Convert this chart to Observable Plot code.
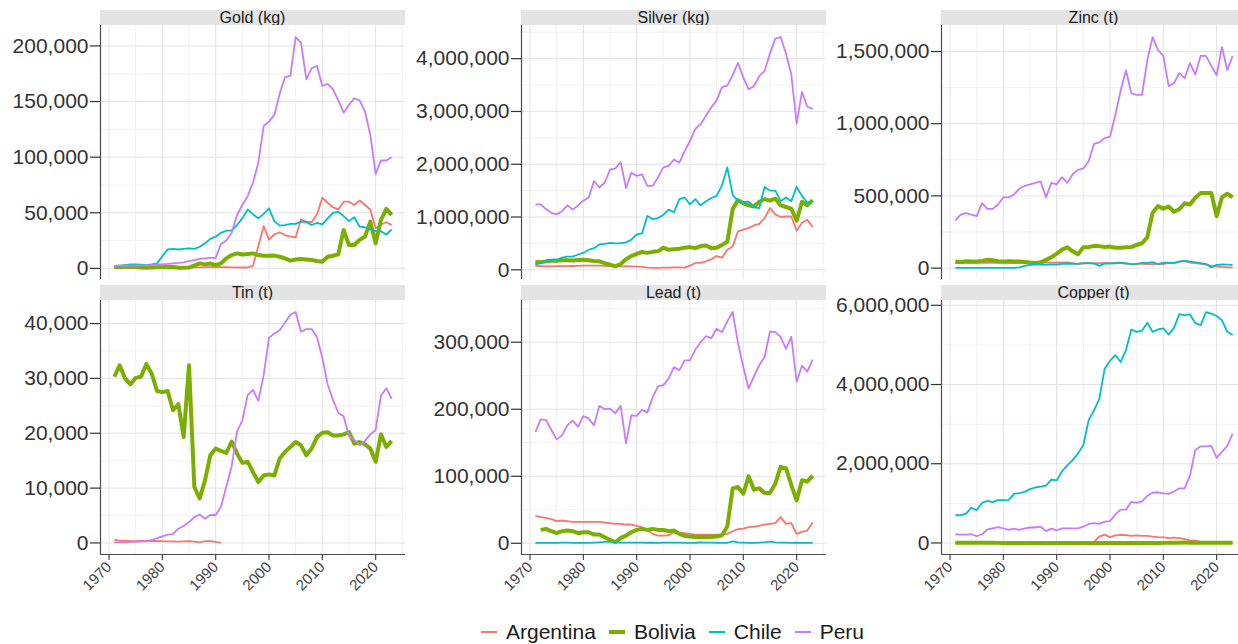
<!DOCTYPE html>
<html>
<head>
<meta charset="utf-8">
<script src="https://cdn.jsdelivr.net/npm/d3@7"></script>
<script src="https://cdn.jsdelivr.net/npm/@observablehq/plot@0.6"></script>
<style>
html,body{margin:0;padding:0;background:#fff;}
#chart{position:relative;width:1238px;height:644px;overflow:hidden;background:#fff;font-family:"Liberation Sans",Arial,Helvetica,sans-serif;}
.panel{position:absolute;}
.panel svg{max-width:none !important;}
.strip{position:absolute;background:#e4e4e4;color:#1a1a1a;font-size:16px;text-align:center;line-height:15px;height:15px;white-space:nowrap;overflow:hidden;}
#legend{position:absolute;top:620px;left:481px;display:flex;align-items:center;font-size:21px;color:#1a1a1a;line-height:24px;white-space:nowrap;}
#legend .key{display:inline-block;width:16px;margin-right:9px;}
#legend .item{display:flex;align-items:center;margin-right:13px;}
</style>
</head>
<body>
<div id="chart"></div>
<script>
// ---------- data (values in thousands of the unit shown in each title) ----------
const years = [1971,1972,1973,1974,1975,1976,1977,1978,1979,1980,
  1981,1982,1983,1984,1985,1986,1987,1988,1989,1990,
  1991,1992,1993,1994,1995,1996,1997,1998,1999,2000,
  2001,2002,2003,2004,2005,2006,2007,2008,2009,2010,
  2011,2012,2013,2014,2015,2016,2017,2018,2019,2020,
  2021,2022,2023];
const countries = ["Argentina", "Bolivia", "Chile", "Peru"];
const metalTitles = ["Gold (kg)", "Silver (kg)", "Zinc (t)", "Tin (t)", "Lead (t)", "Copper (t)"];
const xTicks = [1970, 1980, 1990, 2000, 2010, 2020];
const goldTicks = [0, 50000, 100000, 150000, 200000];
const silverTicks = [0, 1000000, 2000000, 3000000, 4000000];
const zincTicks = [0, 500000, 1000000, 1500000];
const tinTicks = [0, 10000, 20000, 30000, 40000];
const leadTicks = [0, 100000, 200000, 300000];
const copperTicks = [0, 2000000, 4000000, 6000000];

const goldArgentina = [0.8,0.7,0.6,0.5,0.4,0.5,0.5,0.5,0.6,0.5,
  0.6,0.7,0.8,0.9,1.0,0.9,1.0,1.1,1.2,1.3,
  1.2,1.1,0.9,1.0,0.8,0.8,2.5,20.0,38.0,26.0,
  30.5,32.5,30.0,28.5,28.0,44.0,42.0,41.5,48.5,63.5,
  59.0,55.0,53.0,60.0,60.0,57.0,61.0,57.0,53.0,36.0,
  39.5,41.5,39.0];
const goldBolivia = [1.0,1.2,1.4,1.5,1.3,0.9,0.5,0.8,1.0,1.2,
  1.5,1.2,0.6,0.5,0.9,2.5,4.5,3.6,4.4,3.0,
  4.5,9.0,12.0,13.5,12.5,13.0,13.5,12.0,11.4,11.4,
  11.5,10.5,9.0,7.0,8.0,8.5,8.0,7.5,6.6,6.0,
  10.5,11.4,12.6,34.6,21.0,21.0,25.6,28.6,42.0,22.5,
  43.6,53.5,48.0];
const goldChile = [2.0,2.5,3.0,3.5,3.5,3.3,3.0,3.5,4.5,11.0,
  17.0,17.5,17.0,17.5,18.0,17.5,19.5,22.5,26.5,28.5,
  32.0,34.0,34.0,39.0,45.0,53.0,48.5,45.0,49.0,54.0,
  42.5,38.5,39.0,40.0,40.0,42.0,41.5,39.0,41.0,39.5,
  45.0,50.0,51.0,47.0,42.5,46.0,37.5,37.0,35.0,33.5,
  33.5,30.5,35.0];
const goldPeru = [2.0,2.5,2.5,2.5,2.5,2.8,2.8,3.0,3.5,3.5,
  4.0,4.5,5.0,5.5,6.5,7.5,8.5,9.0,9.5,9.5,
  22.0,25.0,32.0,48.0,57.0,65.0,77.0,95.0,128.0,132.0,
  138.0,157.0,172.0,173.0,208.0,203.0,170.0,180.0,182.0,164.0,
  166.0,161.0,151.0,140.0,147.0,153.0,151.0,141.0,120.0,85.0,
  97.0,97.0,100.0];

const silverArgentina = [75,70,65,65,70,70,70,72,75,80,
  80,80,80,75,70,70,65,70,65,60,
  55,40,35,35,40,40,45,45,40,80,
  130,130,160,200,260,230,380,440,730,760,
  790,840,870,980,1170,1050,1000,1010,1010,740,
  890,950,810];
const silverBolivia = [150,145,160,170,170,180,180,175,185,190,
  180,165,160,125,95,65,110,200,260,300,
  340,320,340,350,420,380,390,400,420,430,
  410,450,460,410,420,470,530,1150,1320,1260,
  1220,1200,1290,1340,1310,1350,1220,1190,1160,930,
  1290,1220,1320];
const silverChile = [100,130,170,190,190,230,250,250,290,320,
  380,410,480,490,510,500,500,520,570,670,
  690,1020,960,980,1040,1140,1090,1340,1370,1240,
  1340,1220,1300,1360,1400,1600,1940,1420,1300,1280,
  1290,1190,1170,1570,1500,1500,1300,1370,1300,1570,
  1400,1270,1300];
const silverPeru = [1240,1240,1150,1080,1050,1110,1220,1140,1220,1310,
  1370,1680,1560,1650,1900,1920,2040,1550,1840,1780,
  1810,1590,1590,1750,1940,1970,2090,2030,2250,2440,
  2670,2760,2920,3080,3210,3460,3490,3690,3920,3640,
  3420,3480,3670,3770,4100,4380,4410,4100,3700,2770,
  3370,3090,3050];

const zincArgentina = [35,35,36,38,37,36,38,37,37,36,
  36,35,36,37,38,38,38,39,38,40,
  39,39,35,30,32,35,32,35,36,34,
  38,37,29,27,29,29,27,27,30,27,
  36,33,45,48,38,35,30,25,15,12,
  8,5,5];
const zincBolivia = [45,40,47,45,45,50,58,55,47,45,
  48,45,45,42,38,35,40,57,75,100,
  128,144,116,95,145,145,154,152,146,149,
  141,141,145,146,160,172,214,384,430,411,
  427,390,408,449,440,487,520,520,520,360,
  490,515,490];
const zincChile = [1,1,1,1,1,1,1,1,1,1,
  2,2,5,15,22,25,24,22,26,25,
  30,32,30,29,35,34,33,15,31,32,
  33,36,34,28,29,36,36,41,27,38,
  37,36,45,52,45,40,35,28,5,22,
  25,24,22];
const zincPeru = [330,370,380,370,360,450,410,410,440,490,
  490,510,550,570,580,590,600,490,590,580,
  630,590,650,680,690,740,860,870,900,910,
  1060,1230,1370,1210,1200,1200,1440,1600,1510,1470,
  1260,1280,1350,1315,1420,1340,1470,1470,1400,1335,
  1530,1370,1470];

const tinArgentina = [0.6,0.4,0.4,0.35,0.35,0.4,0.35,0.4,0.35,0.35,
  0.3,0.3,0.25,0.3,0.35,0.25,0.1,0.35,0.35,0.2,
  0.0];
const tinBolivia = [30.3,32.4,30.0,28.9,30.1,30.3,32.6,30.9,27.7,27.5,
  27.7,24.2,25.3,19.3,32.4,10.2,8.1,11.4,16.0,17.2,
  16.8,16.4,18.5,16.3,14.6,14.8,12.9,11.1,12.3,12.5,
  12.3,15.4,16.6,17.5,18.4,17.8,16.0,17.2,19.3,20.1,
  20.2,19.6,19.6,19.8,20.2,18.1,18.4,18.0,17.2,14.8,
  19.8,17.5,18.6];
const tinChile = [];
const tinPeru = [0.1,0.1,0.1,0.2,0.2,0.3,0.3,0.5,0.9,1.2,
  1.5,1.6,2.6,3.1,3.8,4.7,5.2,4.4,5.1,5.1,
  6.6,10.3,14.0,20.3,22.3,27.0,27.9,25.9,30.6,37.4,
  38.2,38.8,40.2,41.6,42.1,38.5,39.0,39.0,37.5,33.8,
  28.9,26.1,23.7,23.1,19.5,18.8,17.8,18.6,19.8,20.6,
  26.9,28.2,26.3];

const leadArgentina = [41,39,38,36,33,34,33,32,32,32,
  32,32,32,31,30,29,29,28,28,26,
  24,20,14,11.5,11.5,12,16,16,15,14,
  13,13,13,13,13,13,14,18,21,22,
  24,25,26,28,29,30,39,29,30,14,
  17,19,31];
const leadBolivia = [null,20,21.5,18,15,18,19,18,15,16.5,
  16.5,13,13,9,5,1.5,8,11.5,16.5,20,
  21.5,20,21.5,20,20,18,19,14,11,10,
  9.5,9.5,9.5,9.5,10,12,25,82,84,74,
  100,80,82,75,75,89,114,112,87,64,
  94,92,101];
const leadChile = [0.5,0.5,0.5,0.5,0.5,1,1,0.5,0.5,0.5,
  0.5,1,1.5,2,2,1.5,1,1,1,1,
  1,0.8,0.8,0.5,1,1,1,1,0.5,0.5,
  0.8,1.5,1,1,0.8,0.5,0.8,3,1.5,1,
  0.5,0.5,1,1.5,2.5,1.5,1,1,0.5,1,
  0.5,0.5,0.5];
const leadPeru = [166,185,184,169,155,161,176,183,174,190,
  186,176,205,200,201,194,205,149,191,190,
  199,195,218,234,236,246,263,258,273,273,
  289,300,309,306,320,315,331,345,299,263,
  231,249,266,278,316,315,308,290,308,241,
  265,256,274];

const copperArgentina = [0,0,0,0,0,0,0,0,0,0,
  0,0,0,0,0,0,0,0,0,0,
  0,0,0,0,0,0,25,160,210,145,
  190,205,200,180,190,180,180,160,145,140,
  120,135,120,100,60,60,30,0,0,0,
  0,0,0];
const copperBolivia = [6,6,7,7,6,5,4,3,2,2,
  2,2,2,1,1,0.5,0.5,0.3,0.3,0.2,
  0.2,0.2,0.2,0.2,0.2,0.3,0.3,0.5,0.4,0.1,
  0.1,0.1,0.1,0.1,0.1,0.2,0.6,0.8,1,2,
  4,6,8,9,8,7,6,5,4,3,
  3,4,4];
const copperChile = [700,700,740,890,830,1010,1060,1030,1080,1080,
  1090,1240,1260,1290,1360,1400,1420,1450,1600,1580,
  1810,1960,2090,2260,2470,3100,3350,3640,4400,4600,
  4740,4570,4870,5390,5330,5360,5560,5330,5390,5420,
  5260,5430,5780,5750,5770,5550,5500,5830,5790,5730,
  5620,5330,5250];
const copperPeru = [220,210,210,220,170,220,340,370,400,370,
  330,360,330,370,390,390,410,300,360,320,
  370,370,370,370,410,480,500,480,540,550,
  720,840,840,1040,1010,1050,1190,1270,1280,1250,
  1240,1300,1380,1380,1700,2350,2440,2440,2450,2150,
  2300,2450,2760];

// ---------- styling / layout ----------
const countryColors = ["#F8766D", "#7CAE00", "#00BFC4", "#C77CFF"];
const countryWidths = [1.8, 4, 1.8, 1.8];
const unit = 1000;

const panelDefs = [
  {title: metalTitles[0], series: [goldArgentina, goldBolivia, goldChile, goldPeru], ticks: goldTicks},
  {title: metalTitles[1], series: [silverArgentina, silverBolivia, silverChile, silverPeru], ticks: silverTicks},
  {title: metalTitles[2], series: [zincArgentina, zincBolivia, zincChile, zincPeru], ticks: zincTicks},
  {title: metalTitles[3], series: [tinArgentina, tinBolivia, tinChile, tinPeru], ticks: tinTicks},
  {title: metalTitles[4], series: [leadArgentina, leadBolivia, leadChile, leadPeru], ticks: leadTicks},
  {title: metalTitles[5], series: [copperArgentina, copperBolivia, copperChile, copperPeru], ticks: copperTicks}
];

const colLeft = [100, 521, 941];
const rowTop = [24.5, 300];
const PW = 305, PH = 254, ML = 100, MR = 4, MT = 12;
const xDomain = [years[0] - 0.05 * (years[years.length - 1] - years[0]),
                 years[years.length - 1] + 0.05 * (years[years.length - 1] - years[0])];
const fmt = d3.format(",");
const chart = document.getElementById("chart");

function minorBreaks(major, domain) {
  const step = major[1] - major[0];
  const out = [];
  const ext = [major[0] - step, ...major, major[major.length - 1] + step];
  for (let i = 0; i < ext.length - 1; i++) {
    const m = (ext[i] + ext[i + 1]) / 2;
    if (m >= domain[0] && m <= domain[1]) out.push(m);
  }
  return out;
}

panelDefs.forEach((p, idx) => {
  const col = idx % 3, row = Math.floor(idx / 3);
  const rows = [];
  countries.forEach((c, ci) => {
    p.series[ci].forEach((v, i) => {
      if (v != null) rows.push({year: years[i], value: v * unit, country: c});
    });
  });
  const vals = rows.map(d => d.value);
  const lo = d3.min(vals), hi = d3.max(vals), pad = (hi - lo) * 0.05;
  const yDomain = [lo - pad, hi + pad];
  const minorY = minorBreaks(p.ticks, yDomain);
  const minorX = minorBreaks(xTicks, xDomain);
  const MB = row === 1 ? 60 : 6;

  const marks = [
    Plot.ruleY(minorY, {stroke: "#f0f0f0", strokeWidth: 0.9}),
    Plot.ruleX(minorX, {stroke: "#f0f0f0", strokeWidth: 0.9}),
    Plot.ruleY(p.ticks, {stroke: "#e3e3e3", strokeWidth: 1}),
    Plot.ruleX(xTicks, {stroke: "#e3e3e3", strokeWidth: 1})
  ];
  countries.forEach((c, ci) => {
    const d = rows.filter(r => r.country === c);
    if (d.length) marks.push(Plot.line(d, {x: "year", y: "value", stroke: countryColors[ci],
      strokeWidth: countryWidths[ci], strokeLinejoin: "round", strokeLinecap: "butt"}));
  });
  marks.push(Plot.ruleX([xDomain[0]], {stroke: "#4d4d4d", strokeWidth: 1.2}));
  marks.push(Plot.axisY(p.ticks, {tickFormat: fmt, fontSize: 21, tickSize: 10, tickPadding: 2,
    color: "#333333", strokeWidth: 1.2, label: null}));
  if (row === 1) {
    marks.push(Plot.ruleY([yDomain[0]], {stroke: "#4d4d4d", strokeWidth: 1.2}));
    marks.push(Plot.axisX(xTicks, {tickFormat: "d", tickRotate: -45, fontSize: 15, tickSize: 6,
      tickPadding: 4, color: "#444444", strokeWidth: 1.2, label: null}));
  }

  const W = ML + PW + MR, H = MT + PH + MB;
  const svg = Plot.plot({
    width: W,
    height: H,
    marginLeft: ML, marginRight: MR, marginTop: MT, marginBottom: MB,
    style: {background: "transparent", overflow: "visible", maxWidth: "none",
      fontFamily: '"Liberation Sans", Arial, Helvetica, sans-serif'},
    x: {domain: xDomain, axis: row === 1 ? undefined : null, label: null},
    y: {domain: yDomain, label: null},
    marks
  });
  const wrap = document.createElement("div");
  wrap.className = "panel";
  wrap.style.left = (colLeft[col] - ML) + "px";
  wrap.style.top = (rowTop[row] - MT) + "px";
  wrap.style.width = W + "px";
  wrap.style.height = H + "px";
  wrap.appendChild(svg);
  chart.appendChild(wrap);
});

// strips drawn above the panels
panelDefs.forEach((p, idx) => {
  const col = idx % 3, row = Math.floor(idx / 3);
  const s = document.createElement("div");
  s.className = "strip";
  s.style.left = colLeft[col] + "px";
  s.style.width = PW + "px";
  s.style.top = (rowTop[row] - 15) + "px";
  s.textContent = p.title;
  chart.appendChild(s);
});

// legend
const legend = document.createElement("div");
legend.id = "legend";
countries.forEach((c, ci) => {
  const item = document.createElement("div");
  item.className = "item";
  const key = document.createElement("span");
  key.className = "key";
  key.style.background = countryColors[ci];
  key.style.height = (ci === 1 ? 4 : 2) + "px";
  const label = document.createElement("span");
  label.textContent = c;
  item.appendChild(key);
  item.appendChild(label);
  legend.appendChild(item);
});
chart.appendChild(legend);
</script>
</body>
</html>
